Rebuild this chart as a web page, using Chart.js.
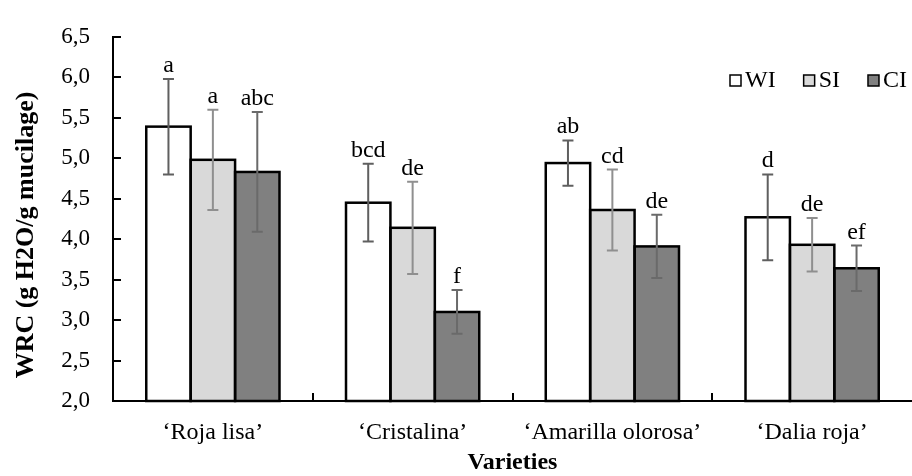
<!DOCTYPE html>
<html>
<head>
<meta charset="utf-8">
<script src="https://cdn.jsdelivr.net/npm/chart.js@4.4.1/dist/chart.umd.min.js"></script>
<style>
  html, body { margin: 0; padding: 0; background: #fff; }
</style>
</head>
<body>
<canvas id="wrcChart" width="912" height="476"></canvas>
<script>
// Valores
const varieties = ['‘Roja lisa’', '‘Cristalina’', '‘Amarilla olorosa’', '‘Dalia roja’'];
const seriesNames = ['WI', 'SI', 'CI'];
const wiValues = [5.39, 4.45, 4.94, 4.27];
const siValues = [4.98, 4.14, 4.36, 3.93];
const ciValues = [4.83, 3.10, 3.91, 3.64];
const wiErrors = [0.59, 0.48, 0.28, 0.53];
const siErrors = [0.62, 0.57, 0.50, 0.33];
const ciErrors = [0.74, 0.27, 0.39, 0.28];
const wiLetters = ['a', 'bcd', 'ab', 'd'];
const siLetters = ['a', 'de', 'cd', 'de'];
const ciLetters = ['abc', 'f', 'de', 'ef'];
const yTickLabels = ['2,0', '2,5', '3,0', '3,5', '4,0', '4,5', '5,0', '5,5', '6,0', '6,5'];
const yTitle = 'WRC (g H2O/g mucilage)';

const FONT = '"Liberation Serif", "Times New Roman", serif';
const fills = ['#ffffff', '#d9d9d9', '#808080'];
const errColors = ['#5f5f5f', '#8f8f8f', '#6a6a6a'];
const errors = [wiErrors, siErrors, ciErrors];
const letters = [wiLetters, siLetters, ciLetters];

// contornos, barras de error, letras, marcas de eje, título Y y leyenda
const decorations = {
    id: 'decorations',
    afterDatasetsDraw(chart) {
        const ctx = chart.ctx;
        const yScale = chart.scales.y;
        const xScale = chart.scales.x;
        const area = chart.chartArea;
        ctx.save();

        // contorno de barras centrado en el borde
        ctx.strokeStyle = '#000';
        ctx.lineWidth = 2.5;
        chart.data.datasets.forEach((ds, i) => {
            chart.getDatasetMeta(i).data.forEach(bar => {
                const base = Math.min(bar.base, area.bottom);
                ctx.strokeRect(bar.x - bar.width / 2, bar.y, bar.width, base - bar.y);
            });
        });

        // barras de error y letras
        chart.data.datasets.forEach((ds, i) => {
            chart.getDatasetMeta(i).data.forEach((bar, j) => {
                const v = ds.data[j];
                const e = errors[i][j];
                const top = yScale.getPixelForValue(v + e);
                const bot = yScale.getPixelForValue(v - e);
                ctx.strokeStyle = errColors[i];
                ctx.lineWidth = 2;
                ctx.beginPath();
                ctx.moveTo(bar.x, top);
                ctx.lineTo(bar.x, bot);
                ctx.moveTo(bar.x - 5.5, top);
                ctx.lineTo(bar.x + 5.5, top);
                ctx.moveTo(bar.x - 5.5, bot);
                ctx.lineTo(bar.x + 5.5, bot);
                ctx.stroke();

                ctx.fillStyle = '#000';
                ctx.font = '24px ' + FONT;
                ctx.textAlign = 'center';
                ctx.textBaseline = 'alphabetic';
                ctx.fillText(letters[i][j], bar.x, top - 7);
            });
        });

        // marcas hacia dentro
        ctx.strokeStyle = '#000';
        ctx.lineWidth = 2;
        ctx.beginPath();
        yScale.ticks.forEach(t => {
            const y = Math.round(yScale.getPixelForValue(t.value));
            ctx.moveTo(area.left, y);
            ctx.lineTo(area.left + 8, y);
        });
        for (let i = 1; i < varieties.length; i++) {
            const x = Math.round((xScale.getPixelForValue(i - 1) + xScale.getPixelForValue(i)) / 2);
            ctx.moveTo(x, area.bottom);
            ctx.lineTo(x, area.bottom - 8);
        }
        ctx.stroke();

        // título del eje Y
        ctx.save();
        ctx.translate(26, 235);
        ctx.rotate(-Math.PI / 2);
        ctx.font = 'bold 26px ' + FONT;
        ctx.fillStyle = '#000';
        ctx.textAlign = 'center';
        ctx.textBaseline = 'middle';
        ctx.fillText(yTitle, 0, 0);
        ctx.restore();

        // leyenda
        ctx.font = '24px ' + FONT;
        ctx.textAlign = 'left';
        ctx.textBaseline = 'alphabetic';
        let lx = 730;
        chart.data.datasets.forEach((ds, i) => {
            ctx.fillStyle = ds.backgroundColor;
            ctx.fillRect(lx, 75, 11, 11);
            ctx.strokeStyle = '#000';
            ctx.lineWidth = 1.5;
            ctx.strokeRect(lx, 75, 11, 11);
            ctx.fillStyle = '#000';
            ctx.fillText(ds.label, lx + 15, 87);
            lx += 15 + ctx.measureText(ds.label).width + 28;
        });

        ctx.restore();
    }
};

new Chart(document.getElementById('wrcChart'), {
    type: 'bar',
    data: {
        labels: varieties,
        datasets: [
            { label: seriesNames[0], data: wiValues, backgroundColor: fills[0] },
            { label: seriesNames[1], data: siValues, backgroundColor: fills[1] },
            { label: seriesNames[2], data: ciValues, backgroundColor: fills[2] }
        ]
    },
    options: {
        responsive: false,
        devicePixelRatio: 1,
        animation: false,
        layout: { padding: { top: 24, right: 0, bottom: 0, left: 0 } },
        datasets: {
            bar: { borderWidth: 0, categoryPercentage: 0.667, barPercentage: 1.0 }
        },
        plugins: {
            legend: { display: false },
            tooltip: { enabled: false }
        },
        scales: {
            x: {
                grid: { display: false, drawTicks: false },
                border: { display: true, color: '#000', width: 2 },
                ticks: { color: '#000', font: { family: FONT, size: 24 }, padding: 17 },
                title: {
                    display: true, text: 'Varieties', color: '#000', padding: 1,
                    font: { family: FONT, size: 24, weight: 'bold', lineHeight: 1 }
                },
                afterFit: s => { s.height = 75; }
            },
            y: {
                min: 2,
                max: 6.5,
                grid: { display: false, drawTicks: false },
                border: { display: true, color: '#000', width: 2 },
                ticks: {
                    stepSize: 0.5, color: '#000', padding: 23,
                    font: { family: FONT, size: 23 },
                    callback: (v, i) => yTickLabels[i]
                },
                afterFit: s => { s.width = 113; }
            }
        }
    },
    plugins: [decorations]
});
</script>
</body>
</html>
